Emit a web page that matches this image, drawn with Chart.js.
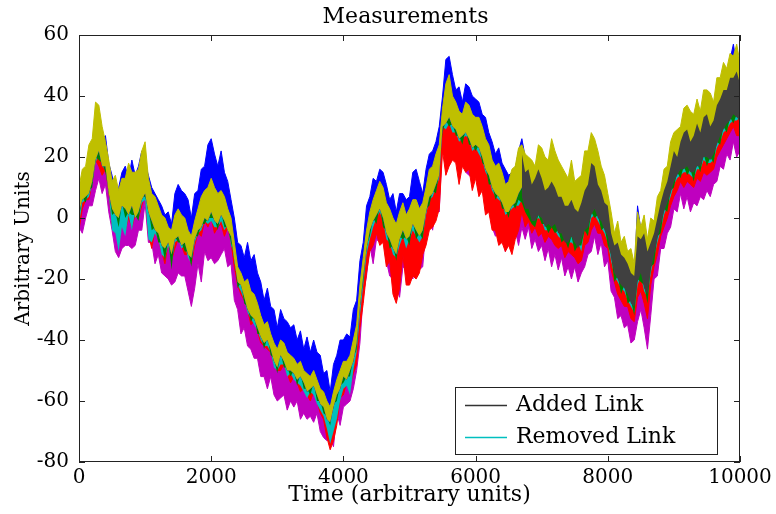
<!DOCTYPE html>
<html>
<head>
<meta charset="utf-8">
<script src="https://cdn.jsdelivr.net/npm/chart.js@4.4.0/dist/chart.umd.min.js"></script>
<style>
  html, body { margin: 0; padding: 0; background: #fff; }
</style>
</head>
<body>
<canvas id="measChart" width="776" height="514"></canvas>
<script>
// sample times (arbitrary units), one reading every 50
const times = [
  0,50,100,150,200,250,300,350,400,450,500,550,600,650,700,750,800,850,900,950,
  1000,1050,1100,1150,1200,1250,1300,1350,1400,1450,1500,1550,1600,1650,1700,1750,1800,1850,1900,1950,
  2000,2050,2100,2150,2200,2250,2300,2350,2400,2450,2500,2550,2600,2650,2700,2750,2800,2850,2900,2950,
  3000,3050,3100,3150,3200,3250,3300,3350,3400,3450,3500,3550,3600,3650,3700,3750,3800,3850,3900,3950,
  4000,4050,4100,4150,4200,4250,4300,4350,4400,4450,4500,4550,4600,4650,4700,4750,4800,4850,4900,4950,
  5000,5050,5100,5150,5200,5250,5300,5350,5400,5450,5500,5550,5600,5650,5700,5750,5800,5850,5900,5950,
  6000,6050,6100,6150,6200,6250,6300,6350,6400,6450,6500,6550,6600,6650,6700,6750,6800,6850,6900,6950,
  7000,7050,7100,7150,7200,7250,7300,7350,7400,7450,7500,7550,7600,7650,7700,7750,7800,7850,7900,7950,
  8000,8050,8100,8150,8200,8250,8300,8350,8400,8450,8500,8550,8600,8650,8700,8750,8800,8850,8900,8950,
  9000,9050,9100,9150,9200,9250,9300,9350,9400,9450,9500,9550,9600,9650,9700,9750,9800,9850,9900,9950,
  10000];

// edges of each coloured band
const blueHi = [
  12,9,15,21,24,29,33,26,27,18,14,8,10,15,17,13,19,14,17,22,
  18,14,10,8,6,4,1,2,-2,8,11,9,8,6,0,8,9,16,17,24,
  26,21,17,22,15,12,6,0,-8,-9,-13,-8,-14,-12,-18,-21,-27,-23,-29,-30,
  -36,-30,-33,-34,-36,-35,-40,-37,-43,-39,-44,-40,-44,-45,-51,-50,-57,-48,-45,-40,
  -40,-38,-39,-30,-27,-14,-8,4,7,13,12,16,15,11,6,8,2,8,8,6,
  7,15,16,12,8,16,21,22,25,30,40,52,53,47,42,43,38,44,43,40,
  39,38,34,33,28,25,21,23,18,16,14,15,16,22,26,20,18,14,13,16,
  17,15,14,16,13,10,11,9,8,10,8,7,10,13,17,20,22,16,12,8,
  4,-5,-9,-11,-12,-10,-14,-17,-19,4,-4,-8,-10,-7,-4,0,5,9,13,18,
  23,24,26,28,30,27,28,29,30,35,37,33,32,37,40,42,45,52,57,50,
  47];

const yellowHi = [
  10,16,17,24,26,38,37,30,25,19,12,14,9,13,13,18,15,15,16,22,
  25,13,8,7,4,1,0,-3,-4,1,3,1,0,-4,-6,-1,3,7,9,10,
  13,10,8,9,7,3,0,-8,-16,-18,-21,-20,-24,-25,-28,-32,-35,-34,-38,-41,
  -43,-40,-41,-44,-45,-46,-48,-47,-50,-51,-52,-50,-53,-56,-57,-60,-62,-57,-53,-50,
  -47,-47,-45,-40,-35,-22,-13,-4,2,6,9,12,10,5,3,0,-2,2,5,1,
  3,6,6,3,5,10,16,17,21,24,36,44,47,40,38,35,34,38,37,34,
  33,33,30,26,24,19,17,18,15,11,12,16,17,23,24,21,20,19,17,24,
  23,20,19,26,22,19,17,15,13,19,12,13,14,22,22,28,26,22,17,14,
  8,2,-5,-1,-8,-6,-11,-10,-15,2,-3,1,-7,0,-1,7,9,16,17,25,
  28,29,30,36,37,35,34,39,35,42,42,41,38,46,46,51,49,54,53,57,
  51];

const yellowLo = [
  2,6,7,8,12,19,22,17,17,8,3,1,0,4,3,1,4,0,2,6,
  8,2,-1,-4,-5,-9,-10,-8,-12,-7,-6,-9,-8,-12,-13,-7,-4,-3,0,-1,
  2,-1,-2,1,-1,-4,-6,-14,-21,-22,-26,-30,-32,-33,-36,-39,-41,-40,-43,-47,
  -49,-45,-47,-50,-50,-51,-53,-52,-54,-57,-56,-55,-58,-61,-62,-66,-67,-62,-58,-56,
  -52,-53,-50,-47,-41,-29,-19,-10,-4,-1,1,3,0,-5,-7,-10,-12,-7,-4,-7,
  -6,-2,-4,-6,-4,2,7,8,11,14,30,31,33,30,29,26,27,28,26,23,
  24,23,20,16,14,10,8,7,5,2,2,4,5,8,10,7,6,3,2,5,
  4,1,2,2,1,-1,-1,-4,-3,-2,-4,-5,-3,0,1,5,7,4,3,0,
  -3,-9,-14,-16,-18,-19,-21,-24,-25,-17,-14,-19,-20,-13,-9,-3,1,5,8,11,
  15,17,19,19,21,19,19,21,21,24,25,23,25,28,31,33,35,36,38,37,
  36];

const greenLo = [
  0,7,5,9,10,20,19,18,15,9,1,2,-3,5,0,2,1,1,-1,7,
  7,3,-4,-3,-8,-8,-14,-7,-17,-6,-8,-8,-11,-11,-16,-6,-6,-2,-2,0,
  0,0,-4,2,-3,-3,-8,-13,-23,-21,-28,-29,-34,-32,-38,-38,-43,-39,-45,-46,
  -51,-44,-49,-49,-52,-50,-55,-51,-56,-56,-58,-54,-60,-60,-64,-65,-68,-61,-60,-55,
  -54,-52,-52,-46,-43,-28,-21,-9,-6,0,-2,4,-3,-4,-10,-9,-14,-6,-7,-6,
  -9,-1,-7,-5,-7,3,4,9,8,15,28,32,30,31,27,27,24,29,24,24,
  22,24,18,17,11,11,6,8,3,3,0,5,3,6,5,2,0,-2,-3,1,
  -2,-2,-5,-3,-5,-4,-8,-7,-10,-6,-11,-9,-9,-4,-6,2,0,1,-4,-3,
  -9,-12,-21,-19,-25,-22,-28,-27,-32,-20,-21,-22,-28,-16,-15,-6,-5,3,2,9,
  10,15,13,17,14,16,12,18,15,21,17,20,18,25,24,30,28,33,31,34,
  31];

const cyanLo = [
  -2,5,6,7,11,18,21,17,16,8,-4,-5,-11,-3,-6,1,-4,2,0,5,
  6,-7,-8,-5,-7,-12,-13,-9,-15,-8,-7,-10,-9,-13,-15,-8,-5,-4,-1,-2,
  -1,-3,-3,-1,-4,-2,-9,-12,-22,-24,-27,-31,-33,-35,-37,-40,-42,-42,-44,-49,
  -50,-48,-48,-52,-51,-53,-54,-55,-57,-59,-57,-58,-61,-63,-65,-69,-74,-70,-66,-60,
  -56,-55,-58,-50,-44,-32,-22,-12,-7,-3,0,2,-1,-7,-8,-12,-13,-9,-6,-10,
  -7,-4,-6,-8,-6,1,6,7,10,13,30,29,31,28,28,25,26,27,26,22,
  23,21,19,15,13,9,7,6,5,1,2,3,4,4,6,3,1,-1,-1,0,
  -1,-4,-4,-2,-4,-6,-7,-6,-8,-8,-9,-8,-11,-3,-5,0,1,-1,-3,-5,
  -8,-14,-19,-21,-23,-24,-27,-29,-31,-22,-19,-24,-26,-18,-13,-8,-4,1,4,7,
  11,13,14,15,15,14,13,16,16,19,18,18,19,23,25,28,29,31,32,32,
  33];

const redLo = [
  -4,3,6,6,12,19,17,14,16,9,-2,-3,-8,-2,-4,0,-3,1,0,4,
  8,-5,-10,-4,-7,-11,-15,-8,-14,-10,-7,-9,-12,-12,-15,-9,-5,-6,-1,-3,
  0,-5,-3,-2,-6,-3,-8,-16,-22,-25,-27,-30,-35,-34,-37,-41,-42,-43,-44,-48,
  -50,-50,-48,-51,-54,-52,-54,-57,-56,-58,-60,-57,-60,-64,-66,-72,-76,-73,-68,-59,
  -58,-54,-55,-51,-48,-36,-28,-18,-11,-9,-5,-9,-8,-16,-14,-25,-28,-23,-12,-22,
  -22,-19,-20,-18,-12,-9,-4,-3,-1,3,22,14,17,19,18,11,17,15,16,9,
  13,7,9,1,2,-4,-4,-9,-8,-11,-9,-12,-7,-4,2,-3,-1,-5,-3,-6,
  -5,-8,-6,-7,-9,-10,-9,-13,-11,-12,-13,-15,-14,-9,-8,-4,-2,-5,-5,-9,
  -10,-17,-21,-25,-27,-29,-29,-33,-34,-26,-24,-28,-33,-22,-16,-12,-6,-3,0,4,
  7,9,12,10,12,11,10,13,12,15,14,15,16,20,22,24,26,28,30,27,
  27];

const magentaLo = [
  -3,-5,0,4,4,9,13,8,11,2,-4,-11,-13,-10,-9,-9,-10,-9,-4,-4,
  5,-8,-8,-15,-12,-18,-19,-20,-22,-21,-18,-19,-19,-24,-29,-23,-15,-21,-11,-14,
  -13,-15,-14,-12,-10,-16,-15,-27,-30,-38,-36,-42,-43,-46,-46,-52,-52,-56,-52,-58,
  -60,-59,-58,-63,-60,-62,-60,-66,-64,-66,-65,-67,-64,-70,-72,-73,-72,-75,-64,-68,
  -62,-61,-60,-56,-50,-41,-25,-19,-9,-15,-7,-8,-5,-14,-19,-20,-22,-26,-16,-17,
  -15,-20,-13,-17,-16,-3,1,-4,4,2,26,18,25,20,22,16,22,15,14,13,
  18,8,14,6,8,-3,-6,-2,-3,-11,-5,-8,-4,-9,-3,-7,-3,-10,-7,-11,
  -9,-14,-10,-16,-12,-17,-13,-19,-16,-20,-16,-21,-18,-16,-12,-11,-6,-12,-8,-16,
  -14,-24,-26,-33,-32,-36,-35,-41,-40,-34,-30,-36,-43,-32,-20,-19,-10,-10,-5,-3,
  3,2,8,3,7,2,5,4,7,6,9,7,11,12,17,16,21,19,25,20,
  22];

// the black band only shows from 6700 on
const blackTimes = times.slice(times.indexOf(6700));
const blackHi = [
  21,15,16,11,13,16,
  13,9,10,12,10,7,7,4,4,6,3,2,5,9,11,18,17,11,9,5,
  4,-5,-9,-8,-12,-13,-15,-18,-19,-6,-7,-5,-11,-8,-5,0,5,9,12,17,
  22,20,25,28,29,25,27,31,28,33,34,30,32,37,39,42,42,46,46,48,
  44];
const blackLo = [
  7,3,3,-1,-1,1,
  0,-3,-2,-3,-2,-5,-5,-8,-8,-6,-8,-10,-7,-4,-3,1,3,0,-1,-4,
  -6,-13,-18,-20,-22,-23,-25,-28,-29,-21,-18,-23,-25,-17,-12,-7,-2,2,5,8,
  12,14,16,16,17,15,15,17,17,20,20,19,21,24,27,29,31,32,34,33,
  32];

const chartTitle = "Measurements";
const legendLabels = ["Added Link", "Removed Link"];

Chart.defaults.font.family = '"DejaVu Serif", serif';
Chart.defaults.color = "#000";

function pts(xs, ys) {
  return xs.map((x, i) => ({ x: x, y: ys[i] }));
}

function band(label, xs, ys, color, fillColor, target, order, edge) {
  return {
    label: label,
    data: pts(xs, ys),
    borderColor: color,
    backgroundColor: fillColor,
    borderWidth: edge,
    pointRadius: 0,
    pointHoverRadius: 0,
    tension: 0,
    fill: target === false ? false : { target: target },
    order: order
  };
}

const datasets = [
  band("yellowLo", times, yellowLo, "rgba(0,0,0,0)", "rgba(0,0,0,0)", false, 0, 0),
  band("blackLo", blackTimes, blackLo, "rgba(0,0,0,0)", "rgba(0,0,0,0)", false, 0, 0),
  band("magenta", times, magentaLo, "#bf00bf", "#bf00bf", 0, 8, 1),
  band("red", times, redLo, "#ff0000", "#ff0000", 0, 7, 1),
  band(legendLabels[1], times, cyanLo, "#00bfbf", "#00bfbf", 0, 6, 0),
  band("green", times, greenLo, "#008000", "#008000", 0, 5, 0),
  band("blue", times, blueHi, "#0000ff", "#0000ff", 0, 4, 1),
  band("yellow", times, yellowHi, "#bfbf00", "#bfbf00", 0, 3, 1),
  band(legendLabels[0], blackTimes, blackHi, "#333333", "#404040", 1, 2, 0)
];

const frame = {
  id: "frame",
  afterDraw(chart) {
    const ctx = chart.ctx;
    const a = chart.chartArea;
    const sx = chart.scales.x;
    const sy = chart.scales.y;
    ctx.save();
    ctx.strokeStyle = "#222";
    ctx.lineWidth = 1;
    ctx.strokeRect(a.left + 0.5, a.top + 0.5, a.right - a.left - 1, a.bottom - a.top - 1);
    ctx.beginPath();
    sx.ticks.forEach(t => {
      const px = Math.round(sx.getPixelForValue(t.value)) + 0.5;
      ctx.moveTo(px, a.bottom); ctx.lineTo(px, a.bottom - 6);
      ctx.moveTo(px, a.top); ctx.lineTo(px, a.top + 6);
    });
    sy.ticks.forEach(t => {
      const py = Math.round(sy.getPixelForValue(t.value)) + 0.5;
      ctx.moveTo(a.left, py); ctx.lineTo(a.left + 6, py);
      ctx.moveTo(a.right, py); ctx.lineTo(a.right - 6, py);
    });
    ctx.stroke();

    // title
    ctx.fillStyle = "#000";
    ctx.font = '22px "DejaVu Serif"';
    ctx.textAlign = "center";
    ctx.textBaseline = "middle";
    ctx.fillText(chartTitle, (a.left + a.right) / 2 - 4, 17);

    // legend box, lower right inside the axes
    const lx = 455, ly = 387, lw = 262, lh = 67;
    ctx.fillStyle = "#fff";
    ctx.fillRect(lx, ly, lw, lh);
    ctx.strokeStyle = "#222";
    ctx.strokeRect(lx + 0.5, ly + 0.5, lw, lh);
    const items = legendLabels.map(l => chart.data.datasets.find(d => d.label === l));
    items.forEach((ds, i) => {
      const y = ly + 18.5 + i * 32;
      ctx.strokeStyle = ds.borderColor;
      ctx.lineWidth = 1.5;
      ctx.beginPath();
      ctx.moveTo(lx + 10, y);
      ctx.lineTo(lx + 52, y);
      ctx.stroke();
      ctx.fillStyle = "#000";
      ctx.textAlign = "left";
      ctx.font = '22px "DejaVu Serif"';
      ctx.fillText(ds.label, lx + 61, y);
    });
    ctx.restore();
  }
};

new Chart(document.getElementById("measChart"), {
  type: "line",
  data: { datasets: datasets },
  options: {
    responsive: false,
    animation: false,
    devicePixelRatio: 1,
    events: [],
    layout: { padding: { top: 35, right: 36, left: 0, bottom: 0 } },
    plugins: {
      legend: { display: false },
      title: { display: false },
      tooltip: { enabled: false }
    },
    scales: {
      x: {
        type: "linear",
        min: 0,
        max: 10000,
        ticks: { stepSize: 2000, font: { size: 20 }, padding: 4, maxRotation: 0, callback: v => String(v) },
        grid: { display: false, drawTicks: false },
        border: { display: false },
        title: { display: true, text: "Time (arbitrary units)", font: { size: 22 }, padding: { top: 0, bottom: 6 } },
        afterFit(scale) { scale.height = 52; }
      },
      y: {
        min: -80,
        max: 60,
        ticks: { stepSize: 20, font: { size: 20 }, padding: 10, callback: v => String(v) },
        grid: { display: false, drawTicks: false },
        border: { display: false },
        title: { display: true, text: "Arbitrary Units", font: { size: 20 }, padding: { top: 12, bottom: 0 } },
        afterFit(scale) { scale.width = 79; }
      }
    }
  },
  plugins: [frame]
});
</script>
</body>
</html>
